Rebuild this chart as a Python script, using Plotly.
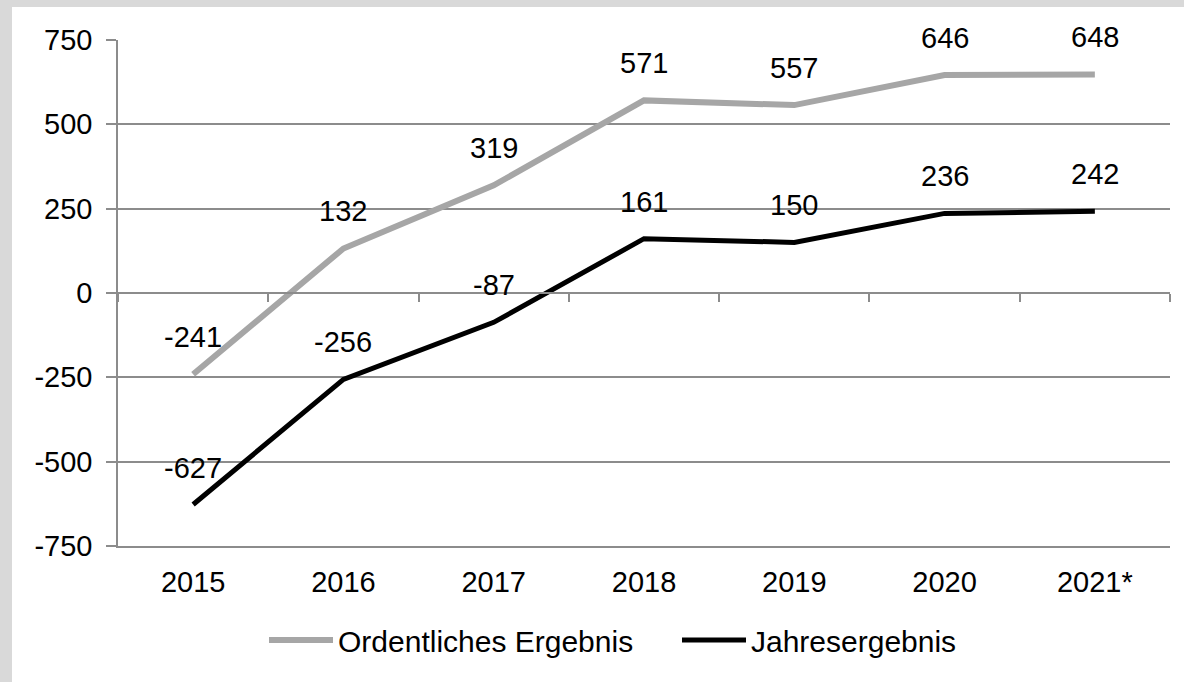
import plotly.graph_objects as go

categories = ["2015", "2016", "2017", "2018", "2019", "2020", "2021*"]
ordentlich = [-241, 132, 319, 571, 557, 646, 648]
jahres = [-627, -256, -87, 161, 150, 236, 242]
ytick_vals = [-750, -500, -250, 0, 250, 500, 750]
ytick_text = ["-750", "-500", "-250", "0", "250", "500", "750"]

FONT = "Liberation Sans, Arial, sans-serif"
FS = 30
GRID = "#8c8c8c"
W, H = 1184, 682
ML, MR, MT, MB = 118, 14, 40, 136
pw, ph = W - ML - MR, H - MT - MB

xs = list(range(len(categories)))

fig = go.Figure()
fig.add_trace(go.Scatter(x=xs, y=ordentlich, mode="lines", name="Ordentliches Ergebnis",
                         line=dict(color="#a6a6a6", width=6), xaxis="x", yaxis="y"))
fig.add_trace(go.Scatter(x=xs, y=jahres, mode="lines", name="Jahresergebnis",
                         line=dict(color="#000000", width=5), xaxis="x2", yaxis="y"))

annotations = []
for series in (ordentlich, jahres):
    for i, v in enumerate(series):
        annotations.append(dict(x=i, y=v, xref="x", yref="y", text=str(v), showarrow=False,
                                yshift=37, font=dict(size=FS - 1, color="black", family=FONT)))

# position of the y=0 line in paper coordinates
zero_pos = (0 - ytick_vals[0]) / (ytick_vals[-1] - ytick_vals[0])

fig.update_layout(
    width=W, height=H,
    margin=dict(l=ML, r=MR, t=MT, b=MB),
    paper_bgcolor="#d9d9d9",
    plot_bgcolor="white",
    font=dict(family=FONT, size=FS, color="black"),
    showlegend=True,
    legend=dict(orientation="h", x=(271 - 7 - ML) / pw, xanchor="left", y=-94 / ph, yanchor="middle",
                font=dict(size=FS, family=FONT), bgcolor="rgba(0,0,0,0)", itemwidth=64,
                entrywidth=334, entrywidthmode="pixels"),
    xaxis=dict(range=[-0.5, len(categories) - 0.5], tickvals=xs, ticktext=categories,
               showgrid=False, zeroline=False, showline=True, linecolor=GRID, linewidth=1.5,
               ticks="", ticklabelstandoff=9, tickfont=dict(size=FS - 1), fixedrange=True),
    xaxis2=dict(overlaying="x", matches="x", anchor="free", position=zero_pos,
                range=[-0.5, len(categories) - 0.5],
                tickvals=[i - 0.5 for i in range(len(categories) + 1)],
                showticklabels=False, ticks="outside", ticklen=8, tickwidth=1.5, tickcolor=GRID,
                showgrid=False, zeroline=False, showline=True, linecolor=GRID, linewidth=1.5),
    yaxis=dict(range=[ytick_vals[0], ytick_vals[-1]], tickvals=ytick_vals, ticktext=ytick_text,
               showgrid=True, gridcolor=GRID, gridwidth=1.5, zeroline=False,
               showline=True, linecolor=GRID, linewidth=1.5,
               ticks="outside", ticklen=10, tickwidth=1.5, tickcolor=GRID,
               ticklabelstandoff=8, tickfont=dict(size=FS - 1)),
    annotations=annotations,
    shapes=[dict(type="rect", xref="paper", yref="paper", layer="below",
                 x0=(12 - ML) / pw, x1=(W - ML + 5) / pw,
                 y0=-(MB + 5) / ph, y1=1 + (MT - 7) / ph,
                 fillcolor="white", line=dict(width=0))],
)

fig.write_html("out.html", config={"displayModeBar": False},
               post_script="document.body.style.margin='0';document.body.style.background='white';")
